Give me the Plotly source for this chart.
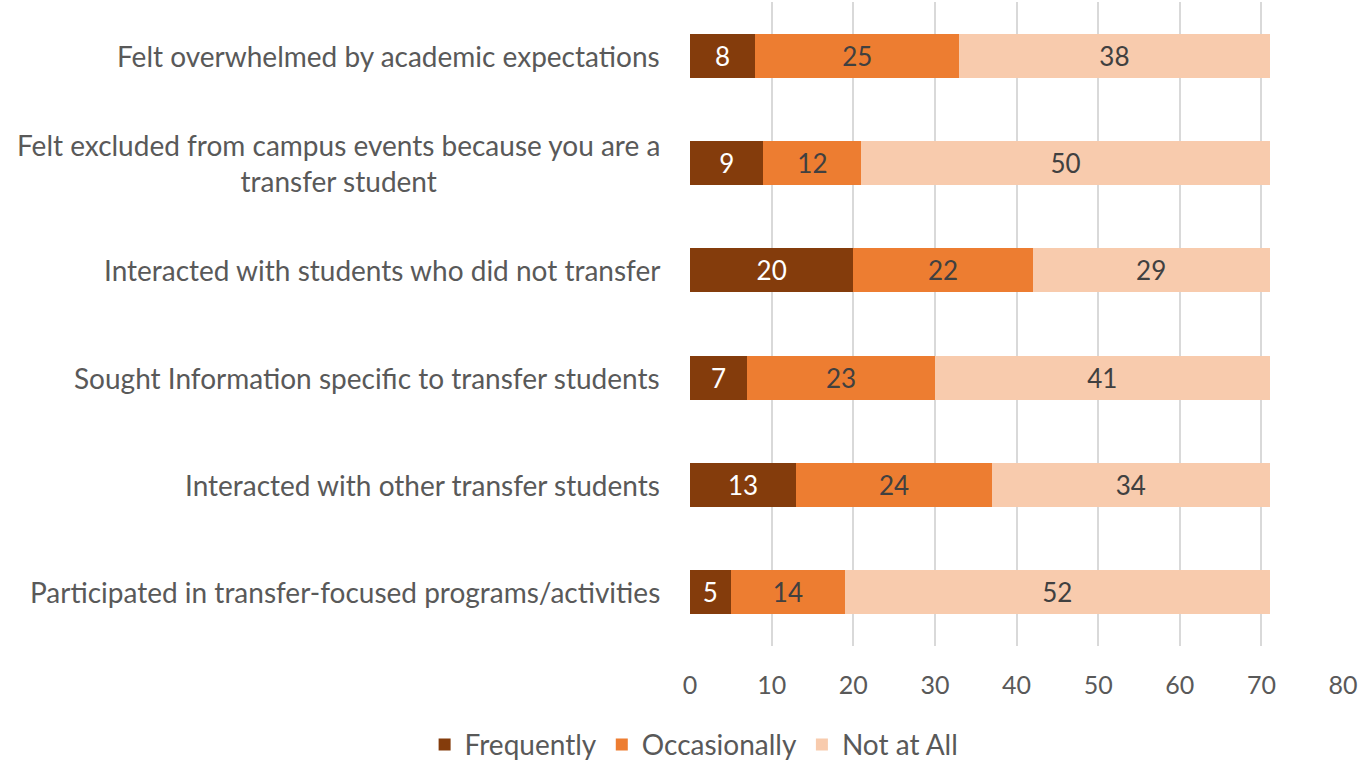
import plotly.graph_objects as go

categories = [
    "Felt overwhelmed by academic expectations",
    "Felt excluded from campus events because you are a<br>transfer student",
    "Interacted with students who did not transfer",
    "Sought Information specific to transfer students",
    "Interacted with other transfer students",
    "Participated in transfer-focused programs/activities",
]
frequently = [8, 9, 20, 7, 13, 5]
occasionally = [25, 12, 22, 23, 24, 14]
not_at_all = [38, 50, 29, 41, 34, 52]
x_ticks = [0, 10, 20, 30, 40, 50, 60, 70, 80]

FONT = "Lato"
GREY = "#595959"
series = [
    ("Frequently", frequently, "#843C0C", "#FFFFFF"),
    ("Occasionally", occasionally, "#ED7D31", "#404040"),
    ("Not at All", not_at_all, "#F8CBAD", "#404040"),
]

fig = go.Figure()
for name, vals, color, tcolor in series:
    fig.add_trace(go.Bar(
        name=name, y=categories, x=vals, orientation="h",
        marker=dict(color=color, line=dict(width=0)),
        text=[str(v) for v in vals], textposition="inside",
        insidetextanchor="middle",
        textfont=dict(family=FONT, size=26, color=tcolor),
        width=0.41,
    ))

for cat in categories:
    fig.add_annotation(
        text=cat, xref="paper", x=0, xanchor="right", xshift=-28,
        yref="y", y=cat, yanchor="middle", align="center",
        showarrow=False, font=dict(family=FONT, size=28, color=GREY),
    )

fig.update_layout(
    barmode="stack",
    width=1361, height=760,
    margin=dict(l=690, r=18, t=2, b=114),
    plot_bgcolor="white", paper_bgcolor="white",
    font=dict(family=FONT, size=24, color=GREY),
    uniformtext=dict(mode=False),
    legend=dict(orientation="h", xref="container", x=0.51, xanchor="center",
                yref="container", y=0.02, yanchor="middle",
                font=dict(family=FONT, size=28, color=GREY),
                traceorder="normal"),
    showlegend=True,
)
fig.update_xaxes(range=[0, 80], tickvals=x_ticks, showgrid=True,
                 gridcolor="#D9D9D9", gridwidth=2, zeroline=False,
                 showline=False, ticks="", tickfont=dict(size=25, color=GREY),
                 ticklabelstandoff=22, automargin=False)
fig.update_yaxes(autorange="reversed", showgrid=False, showline=False,
                 ticks="", showticklabels=False, automargin=False)

fig.write_html("out.html", config={"displayModeBar": False},
               post_script="document.body.style.margin='0';")
